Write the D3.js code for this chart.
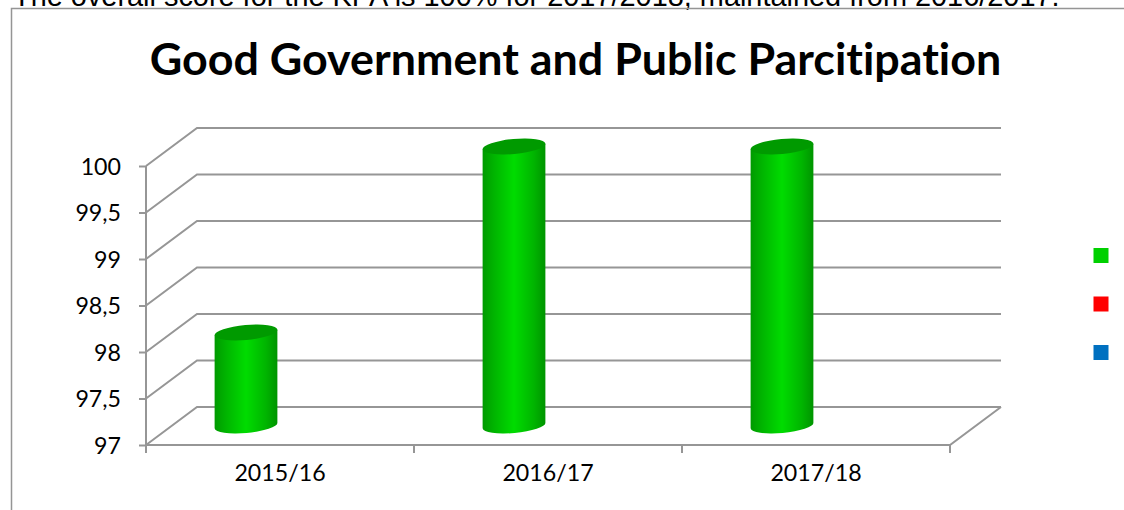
<!DOCTYPE html>
<html>
<head>
<meta charset="utf-8">
<script src="https://cdn.jsdelivr.net/npm/d3@7"></script>
<style>
  html, body { margin: 0; padding: 0; background: #fff; overflow: hidden; }
  svg { display: block; }
  text { fill: #000; font-variant-ligatures: none; }
</style>
</head>
<body>
<svg id="chart" width="1124" height="510"></svg>
<script>
// Chart content
const leadText = "The overall score for the KPA is 100% for 2017/2018, maintained from 2016/2017.";
const chartTitle = "Good Government and Public Parcitipation";
const categories = ["2015/16", "2016/17", "2017/18"];
const scores = [98, 100, 100];
const valueTicks = [97, 97.5, 98, 98.5, 99, 99.5, 100];
const legendColors = ["#00d000", "#ff0000", "#0070c0"];

// Layout
const plotLeft = 146, plotRight = 950, plotBottom = 445, plotTop = 166;
const depthX = 51, depthY = 38;        // offset from the front plane to the back wall
const barShiftX = -34, barShiftY = -19.5; // bars stand part way into the floor
const radiusX = 31.5, radiusY = 7.5, tilt = -5;
const labelFont = "Lato, 'Noto Sans', sans-serif";
const gridColor = "#969696";

const svg = d3.select("#chart");

const x = d3.scaleBand().domain(categories).range([plotLeft, plotRight]);
const y = d3.scaleLinear().domain([97, 100]).range([plotBottom, plotTop]);

// Horizontal shading that gives the cylinders their volume
const defs = svg.append("defs");
const shade = defs.append("linearGradient").attr("id", "cylinderShade");
[[0, "#009a00"], [0.18, "#00b400"], [0.5, "#00dc00"], [0.82, "#00b400"], [1, "#009400"]]
  .forEach(([o, c]) => shade.append("stop").attr("offset", o).attr("stop-color", c));

// Surrounding text and frame
svg.append("text")
  .attr("x", 13).attr("y", 6)
  .attr("font-family", "'Liberation Sans', Arial, sans-serif")
  .attr("font-size", 28.9)
  .text(leadText);

svg.append("path")
  .attr("d", d3.line()([[1124, 8.5], [11.5, 8.5], [11.5, 510]]))
  .attr("fill", "none").attr("stroke", "#959595").attr("stroke-width", 1.5);

svg.append("text")
  .attr("x", 575.5).attr("y", 75)
  .attr("text-anchor", "middle")
  .attr("font-family", labelFont)
  .attr("font-weight", 700)
  .attr("font-size", 44.8)
  .text(chartTitle);

// Side wall and back wall gridlines
const grid = svg.append("g")
  .attr("fill", "none").attr("stroke", gridColor).attr("stroke-width", 2);

grid.selectAll("path.level")
  .data(valueTicks)
  .join("path")
  .attr("class", "level")
  .attr("d", v => d3.line()([
    [plotLeft, y(v)],
    [plotLeft + depthX, y(v) - depthY],
    [plotRight + depthX, y(v) - depthY]
  ]));

// Front edge of the floor
grid.append("path")
  .attr("d", d3.line()([
    [plotLeft, plotBottom],
    [plotRight, plotBottom],
    [plotRight + depthX, plotBottom - depthY]
  ]));

// Value axis
const yAxis = svg.append("g")
  .attr("transform", `translate(${plotLeft},0)`)
  .call(d3.axisLeft(y)
    .tickValues(valueTicks)
    .tickSize(7)
    .tickPadding(18)
    .tickFormat(v => String(v).replace(".", ",")));
yAxis.selectAll("path, line").attr("stroke", gridColor).attr("stroke-width", 2);
yAxis.select("path.domain").attr("d", `M0,${plotTop}V${plotBottom}`);
yAxis.selectAll("text")
  .attr("y", 1)
  .attr("font-family", labelFont).attr("font-size", 23.2).attr("fill", "#000");

// Category axis: labels centred in the bands, ticks on the band edges
const xAxis = svg.append("g")
  .attr("transform", `translate(0,${plotBottom})`)
  .call(d3.axisBottom(x).tickSize(0).tickPadding(20));
xAxis.select("path.domain").remove();
xAxis.selectAll("text")
  .attr("font-family", labelFont).attr("font-size", 23.2).attr("fill", "#000");
xAxis.selectAll("line.edge")
  .data([plotLeft, ...categories.map(c => x(c) + x.bandwidth())])
  .join("line")
  .attr("class", "edge")
  .attr("x1", d => d).attr("x2", d => d)
  .attr("y1", 0).attr("y2", 8)
  .attr("stroke", gridColor).attr("stroke-width", 2);

// Cylinders
const rad = tilt * Math.PI / 180;
const endX = radiusX * Math.cos(rad), endY = radiusX * Math.sin(rad);
const centerX = c => x(c) + x.bandwidth() / 2 + barShiftX;

const bars = svg.append("g").selectAll("g")
  .data(categories.map((c, i) => ({ category: c, value: scores[i] })))
  .join("g");

bars.append("path")
  .attr("fill", "url(#cylinderShade)")
  .attr("d", d => {
    const cx = centerX(d.category);
    const top = y(d.value) + barShiftY, base = y(97) + barShiftY;
    return `M${cx - endX},${top - endY}` +
      `L${cx - endX},${base - endY}` +
      `A${radiusX},${radiusY} ${tilt} 0 0 ${cx + endX},${base + endY}` +
      `L${cx + endX},${top + endY}Z`;
  });

bars.append("ellipse")
  .attr("rx", radiusX).attr("ry", radiusY)
  .attr("fill", "#009a00")
  .attr("transform", d =>
    `translate(${centerX(d.category)},${y(d.value) + barShiftY}) rotate(${tilt})`);

// Legend markers
svg.append("g").selectAll("rect")
  .data(legendColors)
  .join("rect")
  .attr("x", 1093.5)
  .attr("y", (d, i) => 248 + i * 48.5)
  .attr("width", 15).attr("height", 15)
  .attr("fill", d => d);
</script>
</body>
</html>
